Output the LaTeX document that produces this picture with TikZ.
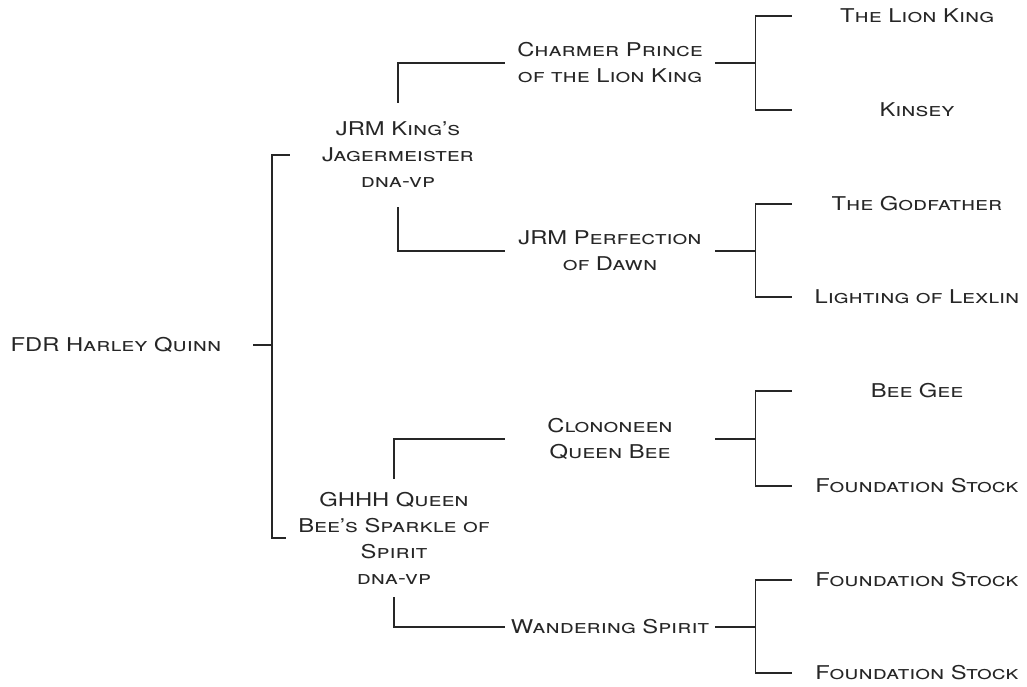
\documentclass[tikz,border=0pt]{standalone}
\usepackage{fontspec}
\setmainfont[FakeStretch=1.25]{TeX Gyre Heros}
\usetikzlibrary{positioning,calc}
\tikzstyle{entry} = [font=\fontsize{19}{26}\selectfont\scshape,align=center,inner sep=0pt,text=black!85]
\tikzstyle{gen_zero} = [entry,minimum width=274pt]
\tikzstyle{gen_one} = [entry,minimum width=216pt]
\tikzstyle{gen_two} = [entry,minimum width=210pt]
\tikzstyle{gen_three} = [entry,minimum width=250pt]
\tikzstyle{line_pedigree} = [-,draw=black!85,line width=1.3pt]

\begin{document}
\begin{tikzpicture}[x=1pt,y=-1pt]
    \useasboundingbox (0,0) rectangle (1027,687);

      % dog and parents
      \node[gen_zero] (root) at (116,345) {FDR Harley Quinn};
      \node[gen_one,minimum height=104pt] (jag) at (398,155) {JRM King's\\Jagermeister\\dna-vp};
      \node[gen_one,minimum height=118pt] (ghhh) at (394,538) {GHHH Queen\\Bee's Sparkle of\\Spirit\\dna-vp};

      % grandparents
      \node[gen_two] (cpr)  at (610,63)  {Charmer Prince\\of the Lion King};
      \node[gen_two] (perf) at (610,251) {JRM Perfection\\of Dawn};
      \node[gen_two] (clon) at (610,439) {Clononeen\\Queen Bee};
      \node[gen_two] (wand) at (610,627) {Wandering Spirit};

      % great-grandparents
      \node[gen_three] (lion)   at (917,16)  {The Lion King};
      \node[gen_three] (kinsey) at (917,110) {Kinsey};
      \node[gen_three] (god)    at (917,204) {The Godfather};
      \node[gen_three] (lex)    at (917,297) {Lighting of Lexlin};
      \node[gen_three] (beegee) at (917,391) {Bee Gee};
      \node[gen_three] (fs1)    at (917,486) {Foundation Stock};
      \node[gen_three] (fs2)    at (917,580) {Foundation Stock};
      \node[gen_three] (fs3)    at (917,673) {Foundation Stock};

      \coordinate (rfork) at (272,345);
      \draw[line_pedigree] (root.east) -- (rfork);
      \draw[line_pedigree] (jag.west) -| (rfork) |- (ghhh.west);

      \path[line_pedigree]
        \foreach \p/\a/\b in {jag/cpr/perf, ghhh/clon/wand} {
          (\p.north) edge[to path={|- (\tikztotarget)}] (\a.west)
          (\p.south) edge[to path={|- (\tikztotarget)}] (\b.west)
        } ;

      \foreach \p/\a/\b in {cpr/lion/kinsey, perf/god/lex, clon/beegee/fs1, wand/fs2/fs3} {
        \path (\p.east) ++(40,0) coordinate (\p-fork);
        \draw[line_pedigree] (\p.east) -- (\p-fork);
        \draw[line_pedigree] (\a.west) -| (\p-fork) |- (\b.west);
      }
    \end{tikzpicture}
\end{document}
